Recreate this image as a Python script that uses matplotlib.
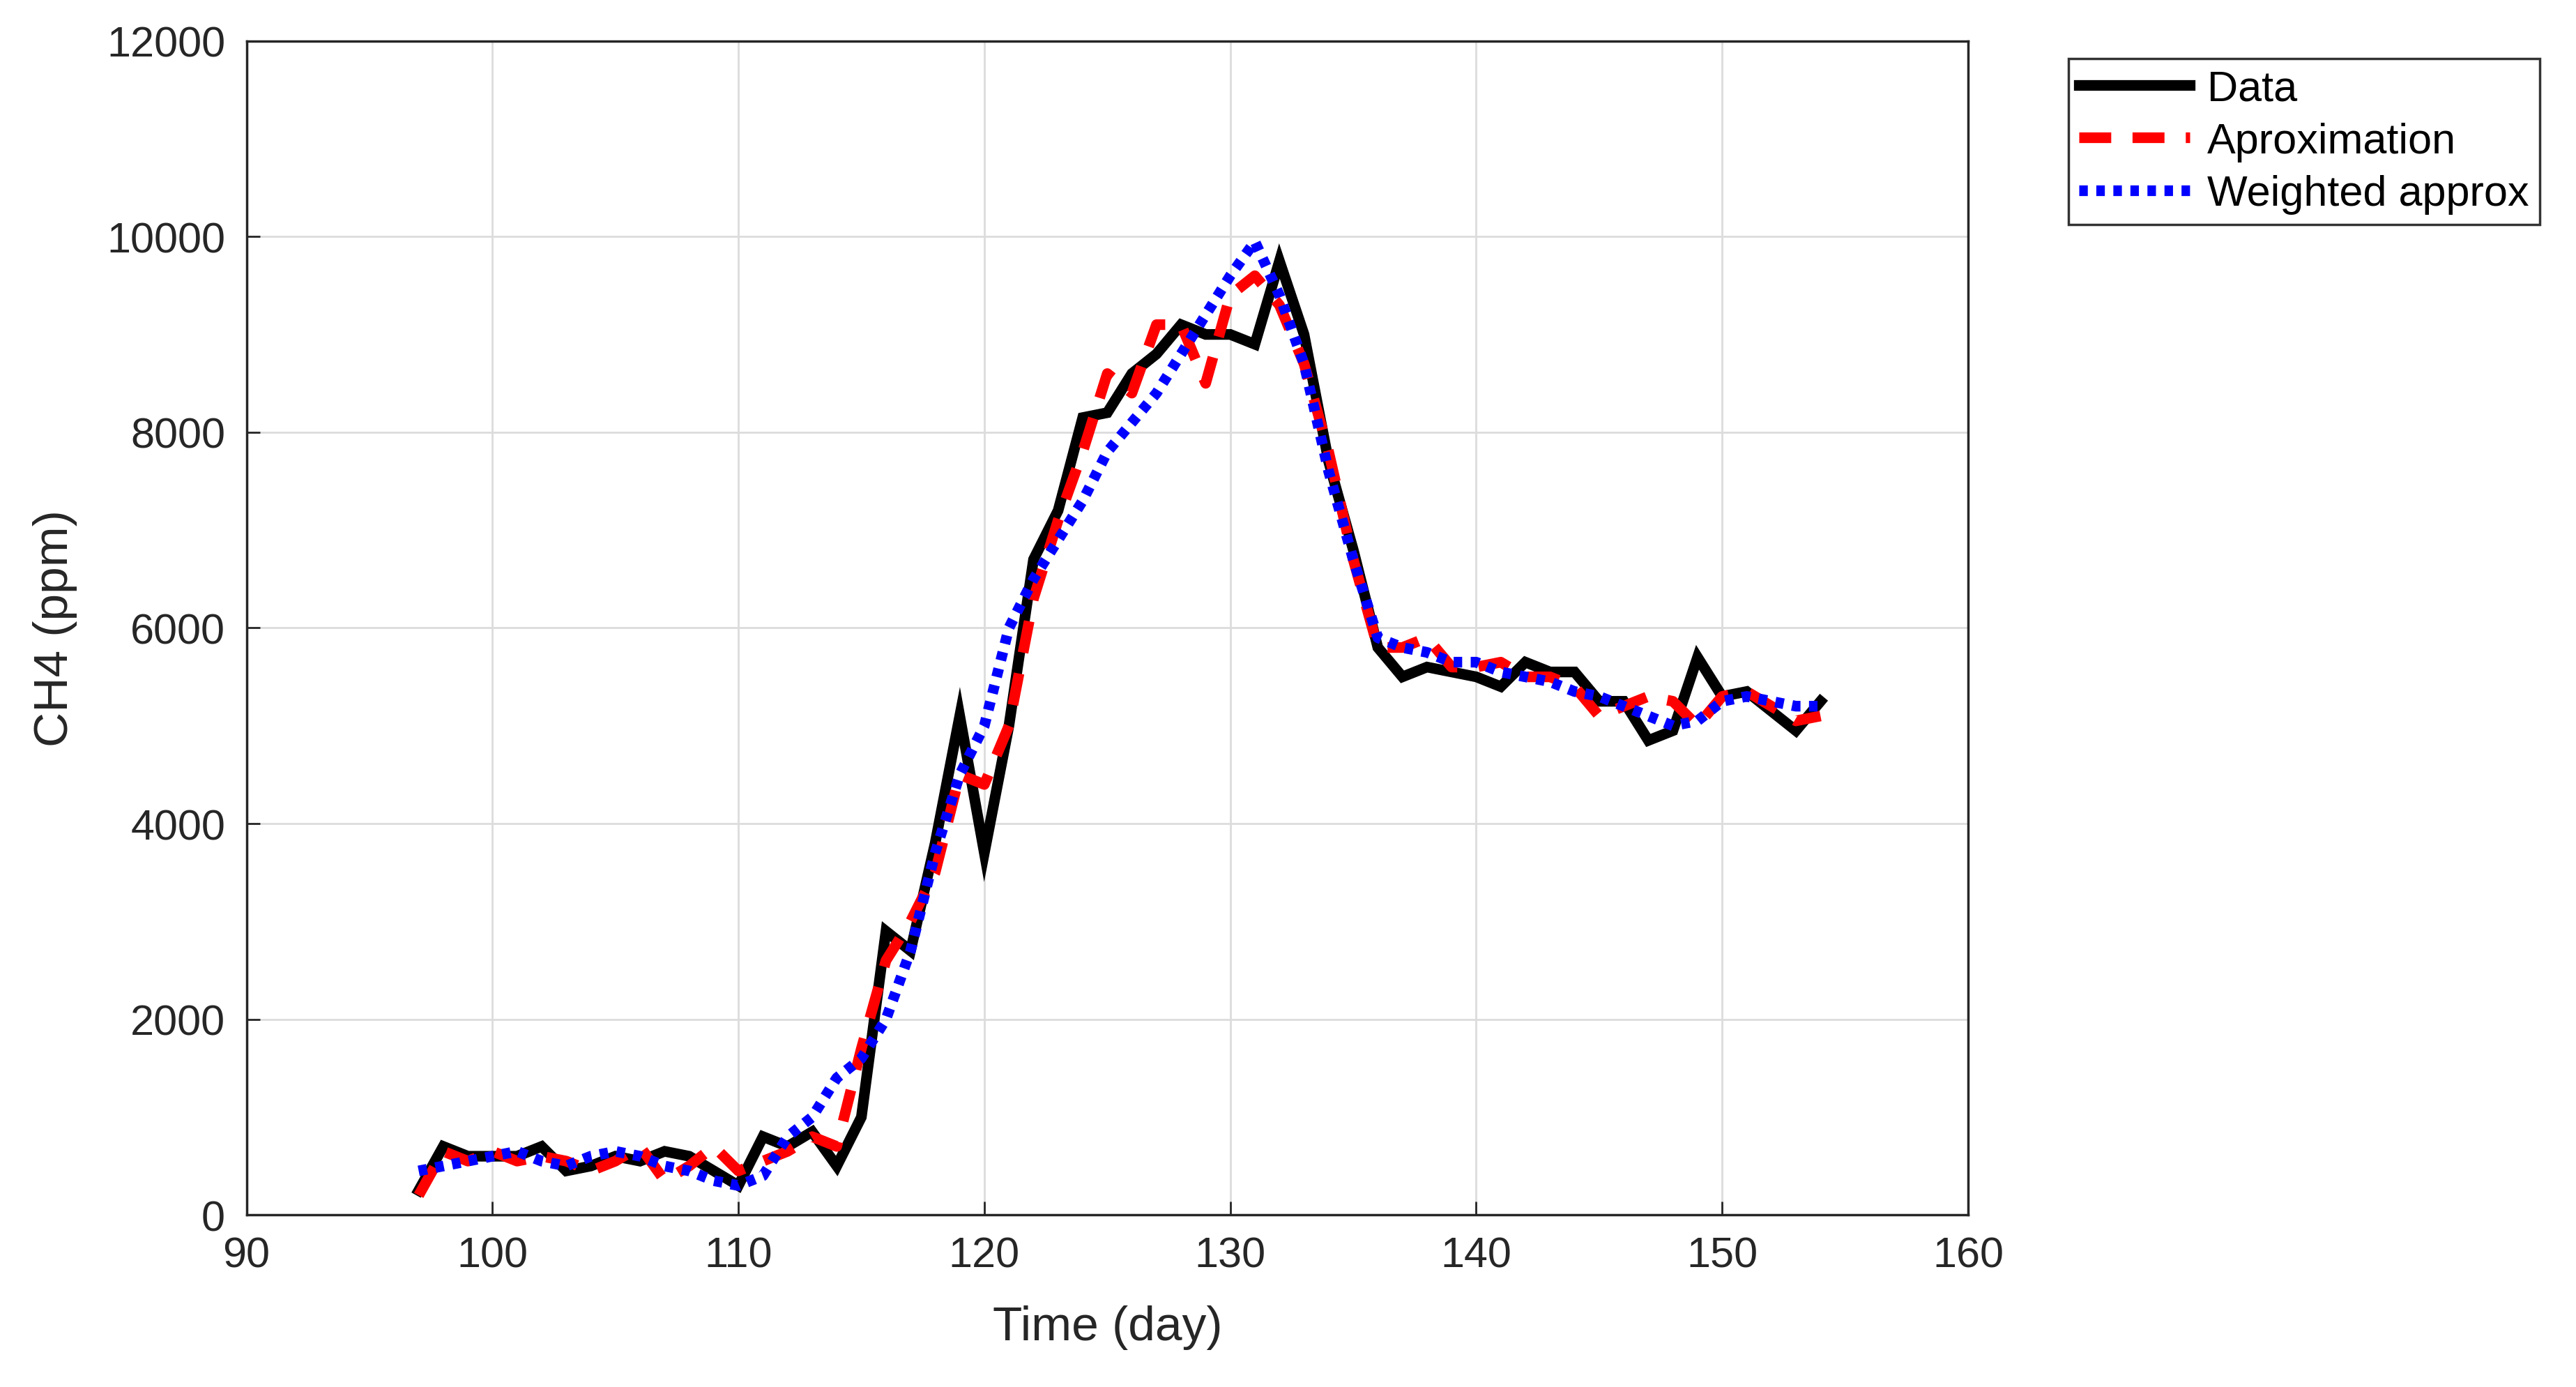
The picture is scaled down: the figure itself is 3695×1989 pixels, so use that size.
import matplotlib
matplotlib.use("Agg")
import matplotlib.pyplot as plt
import numpy as np

days = list(range(97, 155))
data = [250,700,600,600,600,700,450,500,600,550,650,600,450,300,800,700,850,500,1000,2900,
        2700,3800,5100,3700,5000,6700,7200,8150,8200,8600,8800,9100,9000,9000,8900,9750,9000,7700,6800,5800,
        5500,5600,5550,5500,5400,5650,5550,5550,5250,5250,4850,4950,5700,5300,5350,5150,4950,5250]
approx = [200,650,550,650,550,600,550,450,550,700,350,500,700,450,550,650,800,700,1700,2600,
          3000,3500,4500,4400,5000,6300,7100,7800,8600,8400,9100,9100,8500,9400,9600,9300,8700,7800,6700,5800,
          5800,5900,5600,5600,5650,5500,5500,5400,5100,5200,5300,5250,5000,5300,5350,5200,5050,5100]
weighted = [450,500,550,600,650,550,500,600,650,600,500,450,350,300,400,800,1000,1400,1600,2000,
            2700,3700,4500,5000,6000,6500,6900,7300,7800,8100,8400,8800,9200,9600,9950,9400,8700,7600,6700,5900,
            5800,5750,5650,5650,5550,5500,5450,5350,5300,5200,5100,5000,5050,5250,5300,5250,5200,5200]

plt.rcParams['font.family'] = ['Liberation Sans', 'DejaVu Sans']
fig = plt.figure(figsize=(36.95, 19.9), dpi=100)
ax = fig.add_axes([0.0957, 0.124, 0.6683, 0.846])
ax.plot(days, data, color='black', lw=11, label='Data', solid_joinstyle='miter')
ax.plot(days, approx, color='red', lw=11, ls=(0, (3, 2)), label='Aproximation')
ax.plot(days, weighted, color='blue', lw=11, ls=(0, (0.8, 0.8)), label='Weighted approx')
ax.set_xlim(90, 160)
ax.set_ylim(0, 12000)
ax.set_xticks(range(90, 161, 10))
ax.set_yticks(range(0, 12001, 2000))
ax.grid(True, color='#dcdcdc', lw=2)
ax.tick_params(labelsize=44, width=2, length=14, direction='in', top=False, right=False,
               colors='#262626', pad=22)
for s in ax.spines.values():
    s.set_linewidth(2.5)
    s.set_color('#262626')
ax.set_xlabel('Time (day)', fontsize=50, color='#262626', labelpad=30)
ax.set_ylabel('CH4 (ppm)', fontsize=50, color='#262626', labelpad=30)
leg = ax.legend(loc='upper left', bbox_to_anchor=(1.046, 1.003), fontsize=44, frameon=True,
                fancybox=False, edgecolor='black', handlelength=2.6, borderpad=0.25, labelspacing=0.3,
                handletextpad=0.4)
leg.get_frame().set_linewidth(2.5)
fig.savefig('out.png', dpi=100)
